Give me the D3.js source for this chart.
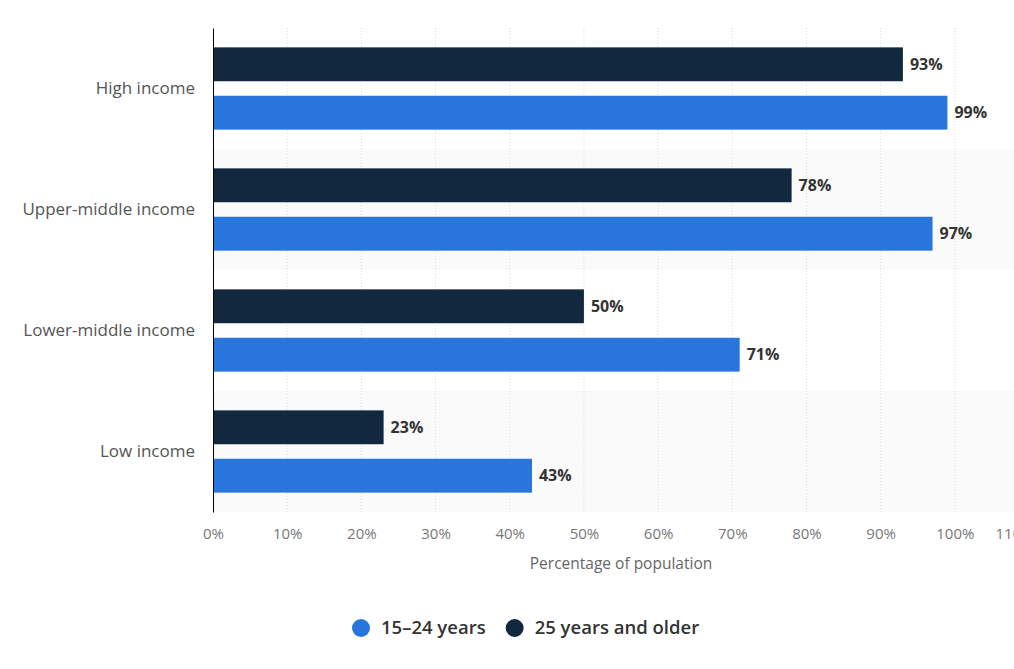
<!DOCTYPE html>
<html>
<head>
<meta charset="utf-8">
<script src="https://cdn.jsdelivr.net/npm/d3@7"></script>
<style>
  body { margin: 0; background: #fff; }
  svg { display: block; font-family: "Open Sans", sans-serif; }
</style>
</head>
<body>
<svg id="chart" width="1014" height="669"></svg>
<script>
// categories and series
const categories = ["High income", "Upper-middle income", "Lower-middle income", "Low income"];
const seriesNames = ["25 years and older", "15-24 years"];
const olderValues = [93, 78, 50, 23];
const youngValues = [99, 97, 71, 43];
const xTicks = [0, 10, 20, 30, 40, 50, 60, 70, 80, 90, 100, 110];

const colors = { "15-24 years": "#2876dd", "25 years and older": "#12283f" };

const svg = d3.select("#chart");
const margin = { top: 28, left: 213 };
const plotBottom = 512;
const width = 1014;

const x = d3.scaleLinear().domain([0, 110]).range([margin.left, margin.left + 816]);
const y = d3.scaleBand().domain(categories).range([margin.top, plotBottom]);
const inner = d3.scaleBand().domain(seriesNames).range([0, y.bandwidth()])
  .paddingInner(0.3).paddingOuter(0.4);

// alternating band backgrounds
svg.append("g").selectAll("rect")
  .data(categories.filter((d, i) => i % 2 === 1))
  .join("rect")
  .attr("x", margin.left)
  .attr("y", d => y(d))
  .attr("width", width - margin.left)
  .attr("height", y.bandwidth())
  .attr("fill", "#fafafa");

// dotted grid lines
svg.append("g").selectAll("line")
  .data(xTicks.slice(1))
  .join("line")
  .attr("x1", d => x(d)).attr("x2", d => x(d))
  .attr("y1", margin.top).attr("y2", plotBottom)
  .attr("stroke", "#dcdcdc")
  .attr("stroke-dasharray", "1,2");

const rows = categories.map((c, i) => ({
  cat: c,
  vals: [
    { name: "25 years and older", v: olderValues[i] },
    { name: "15-24 years", v: youngValues[i] }
  ]
}));

const groups = svg.append("g").selectAll("g")
  .data(rows)
  .join("g")
  .attr("transform", d => `translate(0,${y(d.cat)})`);

groups.selectAll("rect")
  .data(d => d.vals)
  .join("rect")
  .attr("x", x(0))
  .attr("y", d => inner(d.name))
  .attr("width", d => x(d.v) - x(0))
  .attr("height", inner.bandwidth())
  .attr("fill", d => colors[d.name]);

groups.selectAll("text")
  .data(d => d.vals)
  .join("text")
  .attr("x", d => x(d.v) + 7)
  .attr("y", d => inner(d.name) + inner.bandwidth() / 2)
  .attr("dy", "0.35em")
  .attr("font-size", 16)
  .attr("font-weight", 700)
  .attr("fill", "#333")
  .text(d => d.v + "%");

// category axis
const yAxis = svg.append("g")
  .attr("transform", `translate(${margin.left},0)`)
  .call(d3.axisLeft(y).tickSize(0).tickPadding(18));
yAxis.select(".domain").attr("stroke", "#000");
yAxis.selectAll("text")
  .attr("font-family", "Open Sans, sans-serif")
  .attr("font-size", 17)
  .attr("fill", "#555");

// value axis
const xAxis = svg.append("g")
  .attr("transform", `translate(0,${plotBottom})`)
  .call(d3.axisBottom(x).tickValues(xTicks).tickSize(0).tickPadding(16)
    .tickFormat(d => d + "%"));
xAxis.select(".domain").remove();
xAxis.selectAll("text")
  .attr("font-family", "Open Sans, sans-serif")
  .attr("font-size", 15)
  .attr("fill", "#777");
// last label sits past the edge, pushed left like in the original
xAxis.selectAll(".tick").filter(d => d === 110).select("text")
  .attr("text-anchor", "start")
  .attr("x", -34);

svg.append("text")
  .attr("x", (x(0) + x(110)) / 2)
  .attr("y", 569)
  .attr("text-anchor", "middle")
  .attr("font-size", 15.5)
  .attr("fill", "#666")
  .text("Percentage of population");

// legend
const legendItems = ["15-24 years", "25 years and older"];
const legend = svg.append("g").attr("transform", "translate(352,628)");
let offset = 0;
legendItems.forEach(name => {
  const g = legend.append("g").attr("transform", `translate(${offset},0)`);
  g.append("circle").attr("cx", 9).attr("cy", 0).attr("r", 9).attr("fill", colors[name]);
  const t = g.append("text")
    .attr("x", 29).attr("dy", "0.35em")
    .attr("font-size", 18.5).attr("font-weight", 600).attr("fill", "#333")
    .text(name.replace("-", "–"));
  offset += 29 + t.node().getComputedTextLength() + 20;
});
</script>
</body>
</html>
